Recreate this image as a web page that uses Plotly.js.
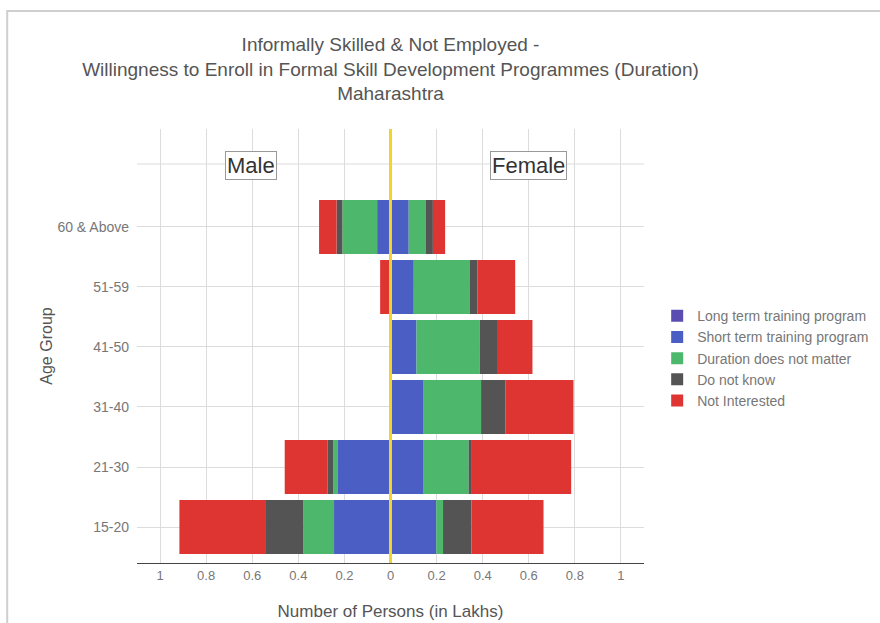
<!DOCTYPE html>
<html>
<head>
<meta charset="utf-8">
<script src="https://cdn.plot.ly/plotly-3.0.1.min.js"></script>
<style>
html,body{margin:0;padding:0;background:#fff;}
#chart{width:880px;height:623px;}
</style>
</head>
<body>
<div id="chart"></div>
<script>
const ageGroups = ['15-20', '21-30', '31-40', '41-50', '51-59', '60 & Above'];
const seriesNames = ['Long term training program', 'Short term training program', 'Duration does not matter', 'Do not know', 'Not Interested'];

// Female (right side), in Lakhs
const femaleLong  = [0.003, 0.002, 0.002, 0.002, 0.002, 0.004];
const femaleShort = [0.196, 0.142, 0.142, 0.111, 0.099, 0.075];
const femaleDur   = [0.029, 0.195, 0.249, 0.274, 0.242, 0.075];
const femaleDK    = [0.123, 0.014, 0.105, 0.079, 0.035, 0.030];
const femaleNI    = [0.313, 0.431, 0.296, 0.150, 0.163, 0.053];

// Male (left side), in Lakhs
const maleLong  = [0, 0, 0, 0, 0, 0];
const maleShort = [0.245, 0.228, 0, 0, 0.005, 0.058];
const maleDur   = [0.133, 0.020, 0, 0, 0, 0.151];
const maleDK    = [0.166, 0.026, 0, 0, 0, 0.025];
const maleNI    = [0.372, 0.185, 0, 0, 0.040, 0.076];

const xTickVals = [-1, -0.8, -0.6, -0.4, -0.2, 0, 0.2, 0.4, 0.6, 0.8, 1];
const xTickText = ['1', '0.8', '0.6', '0.4', '0.2', '0', '0.2', '0.4', '0.6', '0.8', '1'];

const colors = ['#5a4db2', '#4a5ec3', '#4db86b', '#545454', '#df3532'];

const femaleSets = [femaleLong, femaleShort, femaleDur, femaleDK, femaleNI];
const maleSets = [maleLong, maleShort, maleDur, maleDK, maleNI];

const traces = [];
for (let i = 0; i < seriesNames.length; i++) {
  traces.push({
    type: 'bar', orientation: 'h', name: seriesNames[i], legendgroup: 'g' + i,
    y: ageGroups, x: femaleSets[i],
    marker: {color: colors[i], line: {width: 0}},
    showlegend: true, hoverinfo: 'x+y+name'
  });
  traces.push({
    type: 'bar', orientation: 'h', name: seriesNames[i], legendgroup: 'g' + i,
    y: ageGroups, x: maleSets[i].map(v => -v),
    marker: {color: colors[i], line: {width: 0}},
    showlegend: false, hoverinfo: 'x+y+name'
  });
}

const layout = {
  width: 880, height: 623,
  margin: {l: 137, r: 236, t: 129, b: 60, autoexpand: false},
  paper_bgcolor: '#ffffff', plot_bgcolor: '#ffffff',
  font: {family: 'Liberation Sans, Arial, sans-serif', color: '#666'},
  barmode: 'relative', bargap: 0.1,
  title: {
    text: 'Informally Skilled & Not Employed -<br>Willingness to Enroll in Formal Skill Development Programmes (Duration)<br>Maharashtra',
    font: {size: 19, color: '#555'},
    xref: 'paper', x: 0.5, xanchor: 'center',
    yref: 'container', y: 0.918, yanchor: 'top'
  },
  xaxis: {
    range: [-1.1, 1.1], tickmode: 'array', tickvals: xTickVals, ticktext: xTickText,
    showgrid: true, gridcolor: '#dcdcdc', gridwidth: 1, zeroline: false,
    showline: true, linecolor: '#444', linewidth: 1, automargin: false,
    ticks: '', tickfont: {size: 13, color: '#777'},
    title: {text: 'Number of Persons (in Lakhs)', font: {size: 17, color: '#555'}, standoff: 23},
    fixedrange: true
  },
  yaxis: {
    type: 'category', categoryorder: 'array', categoryarray: ageGroups,
    range: [-0.6, 6.633], automargin: false,
    showgrid: true, gridcolor: '#dcdcdc', gridwidth: 1, zeroline: false,
    showline: false, ticks: '', tickfont: {size: 14, color: '#777'},
    ticklabelstandoff: 7,
    title: {text: 'Age Group', font: {size: 16, color: '#555'}, standoff: 0},
    fixedrange: true
  },
  legend: {
    x: 1.026, xanchor: 'left', y: 0.472, yanchor: 'middle',
    traceorder: 'normal', tracegroupgap: 2,
    font: {size: 14, color: '#777'}, bgcolor: 'rgba(0,0,0,0)'
  },
  shapes: [
    {type: 'line', xref: 'paper', yref: 'y', x0: 0, x1: 1, y0: 6.05, y1: 6.05,
     line: {color: '#dcdcdc', width: 1}, layer: 'below'},
    {type: 'line', xref: 'x', yref: 'paper', x0: 0, x1: 0, y0: 0, y1: 1,
     line: {color: '#f2d42a', width: 3}, layer: 'above'},
    {type: 'path', xref: 'paper', yref: 'paper',
     path: 'M -0.256 -0.2 L -0.256 1.272 L 1.5 1.272',
     line: {color: '#cfcfcf', width: 2}, layer: 'below'}
  ],
  annotations: [
    {xref: 'x', yref: 'y', x: -0.607, y: 6.02, text: 'Male', showarrow: false,
     font: {size: 22, color: '#333'}, bordercolor: '#999', borderwidth: 1, borderpad: 1, bgcolor: '#fff'},
    {xref: 'x', yref: 'y', x: 0.6, y: 6.02, text: 'Female', showarrow: false,
     font: {size: 22, color: '#333'}, bordercolor: '#999', borderwidth: 1, borderpad: 1, bgcolor: '#fff'}
  ]
};

Plotly.newPlot('chart', traces, layout, {displayModeBar: false, staticPlot: true});
</script>
</body>
</html>
